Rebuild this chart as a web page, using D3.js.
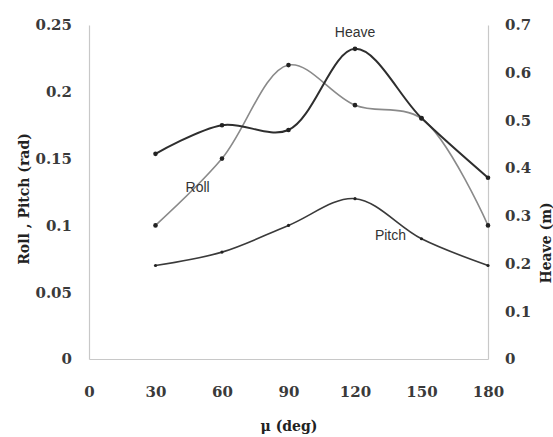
<!DOCTYPE html>
<html>
<head>
<meta charset="utf-8">
<script src="https://cdn.jsdelivr.net/npm/d3@7"></script>
<style>
  body { margin: 0; background: #fff; }
  .tick-label { font-family: 'DejaVu Serif', serif; font-weight: bold; font-size: 15px; fill: #3a3a3a; }
  .axis-title { font-family: 'DejaVu Serif', serif; font-weight: bold; font-size: 14px; fill: #222; }
  .series-label { font-family: 'Liberation Sans', sans-serif; font-size: 14px; fill: #333; }
</style>
</head>
<body>
<div id="chart"></div>
<script>
// chart data
var angles = [30, 60, 90, 120, 150, 180];
var roll   = [0.10, 0.15, 0.22, 0.19, 0.18, 0.10];
var pitch  = [0.07, 0.08, 0.10, 0.12, 0.09, 0.07];
var heave  = [0.43, 0.49, 0.48, 0.65, 0.505, 0.38];

var xTicks     = [0, 30, 60, 90, 120, 150, 180];
var leftTicks  = [0, 0.05, 0.1, 0.15, 0.2, 0.25];
var rightTicks = [0, 0.1, 0.2, 0.3, 0.4, 0.5, 0.6, 0.7];

var WIDTH = 553, HEIGHT = 437;
var plot = { left: 89, right: 488, top: 25, bottom: 359 };

var svg = d3.select('#chart')
            .append('svg')
            .attr('width', WIDTH)
            .attr('height', HEIGHT);

var x  = d3.scaleLinear().domain([0, 180]).range([plot.left, plot.right]);
var yL = d3.scaleLinear().domain([0, 0.25]).range([plot.bottom, plot.top]);
var yR = d3.scaleLinear().domain([0, 0.7]).range([plot.bottom, plot.top]);

// axes: thin light grey lines, no visible ticks
function styleAxis(g) {
    g.select('.domain').attr('stroke', '#c8c8c8').attr('stroke-width', 1.2);
    g.selectAll('.tick line').remove();
    g.selectAll('.tick text').attr('class', 'tick-label');
}

svg.append('g')
    .attr('transform', 'translate(0,' + plot.bottom + ')')
    .call(d3.axisBottom(x).tickValues(xTicks).tickSizeOuter(0).tickPadding(21))
    .call(styleAxis);

svg.append('g')
    .attr('transform', 'translate(' + plot.left + ',0)')
    .call(d3.axisLeft(yL).tickValues(leftTicks).tickFormat(d3.format('')).tickSizeOuter(0).tickPadding(11))
    .call(styleAxis);

svg.append('g')
    .attr('transform', 'translate(' + plot.right + ',0)')
    .call(d3.axisRight(yR).tickValues(rightTicks).tickFormat(d3.format('')).tickSizeOuter(0).tickPadding(11))
    .call(styleAxis);

// series, smoothed like the spreadsheet original
var series = [
    { name : 'Roll',  values : roll,  y : yL, color : '#8a8a8a', width : 1.6, r : 2.3 },
    { name : 'Heave', values : heave, y : yR, color : '#2e2e2e', width : 2,   r : 2.3 },
    { name : 'Pitch', values : pitch, y : yL, color : '#3a3a3a', width : 1.6, r : 1.6 }
];

series.forEach(function(s) {
    var pts = angles.map(function(a, i) { return [x(a), s.y(s.values[i])]; });
    svg.append('path')
        .attr('d', d3.line().curve(d3.curveCatmullRom.alpha(0.5))(pts))
        .attr('fill', 'none')
        .attr('stroke', s.color)
        .attr('stroke-width', s.width);
    svg.selectAll(null)
        .data(pts)
        .enter()
        .append('circle')
        .attr('cx', function(d) { return d[0]; })
        .attr('cy', function(d) { return d[1]; })
        .attr('r', s.r)
        .attr('fill', '#222');
});

// series labels
svg.selectAll('.series-label')
    .data([
        { text : 'Heave', x : 120, y : 0.675, scale : yR },
        { text : 'Roll',  x : 49,  y : 0.125, scale : yL },
        { text : 'Pitch', x : 136, y : 0.089, scale : yL }
    ])
    .enter()
    .append('text')
    .attr('class', 'series-label')
    .attr('x', function(d) { return x(d.x); })
    .attr('y', function(d) { return d.scale(d.y); })
    .attr('text-anchor', 'middle')
    .text(function(d) { return d.text; });

// axis titles
svg.append('text')
    .attr('class', 'axis-title')
    .attr('x', 289)
    .attr('y', 431)
    .attr('text-anchor', 'middle')
    .text('μ (deg)');

svg.append('text')
    .attr('class', 'axis-title')
    .attr('transform', 'translate(29,199) rotate(-90)')
    .attr('text-anchor', 'middle')
    .text('Roll , Pitch (rad)');

svg.append('text')
    .attr('class', 'axis-title')
    .attr('transform', 'translate(551,243) rotate(-90)')
    .attr('text-anchor', 'middle')
    .text('Heave (m)');
</script>
</body>
</html>
